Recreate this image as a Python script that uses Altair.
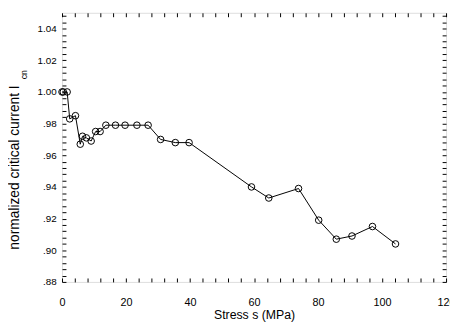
import altair as alt
import pandas as pd

stress = [0, 0.4, 1.6, 2.4, 4.2, 5.7, 6.4, 7.6, 9.1, 10.5, 11.9, 13.7, 16.7, 19.7,
          23.4, 26.9, 30.8, 35.4, 39.7, 59.2, 64.6, 73.9, 80.2, 85.7, 90.6, 97.0, 104.2]
icn = [1.000, 1.000, 1.000, 0.983, 0.985, 0.967, 0.972, 0.971, 0.969, 0.975, 0.975,
       0.979, 0.979, 0.979, 0.979, 0.979, 0.970, 0.968, 0.968, 0.940, 0.933, 0.939,
       0.919, 0.907, 0.909, 0.915, 0.904]

x_labels = [0, 20, 40, 60, 80, 100, 120]
y_labels = [0.88, 0.90, 0.92, 0.94, 0.96, 0.98, 1.00, 1.02, 1.04]
x_minor = list(range(0, 121, 4))
y_minor = [round(0.88 + 0.004 * k, 3) for k in range(0, 43)]

df = pd.DataFrame({"s": stress, "i": icn})
W, H = 391, 274
FONT = "Liberation Sans"

xs = alt.Scale(domain=[0, 120], nice=False)
ys = alt.Scale(domain=[0.88, 1.05], nice=False)

base = alt.Chart(df)

line = base.mark_line(color="black", strokeWidth=1).encode(
    x=alt.X("s:Q", scale=xs, axis=alt.Axis(
        values=x_labels, title="Stress s (MPa)", grid=False, domain=False, tickSize=0,
        labelFlush=False, labelOverlap=False,
        labelPadding=15, labelFontSize=11, labelFont=FONT, labelColor="black",
        titleFont=FONT, titleFontSize=12.5, titleFontWeight="normal", titleColor="black",
        titlePadding=1)),
    y=alt.Y("i:Q", scale=ys, axis=alt.Axis(
        values=y_labels, labelExpr="datum.value >= 1 ? format(datum.value, '.2f') : replace(format(datum.value, '.2f'), '0.', '.')",
        title="normalized critical current I", grid=False, domain=False, tickSize=0,
        labelFlush=False, labelOverlap=False,
        labelPadding=6, labelFontSize=10, labelFont=FONT, labelColor="black",
        titleFont=FONT, titleFontSize=14, titleFontWeight="normal", titleColor="black",
        titleAngle=270, titleX=-41, titleY=157, titleBaseline="bottom", titleAlign="center")),
)

points = base.mark_point(shape="circle", size=45, filled=False, color="black",
                         strokeWidth=1, opacity=1).encode(
    x=alt.X("s:Q", scale=xs, axis=alt.Axis(
        orient="top", offset=-H, values=x_minor, labels=False, title=None, grid=False,
        domain=False, tickSize=4, tickColor="black")),
    y=alt.Y("i:Q", scale=ys, axis=alt.Axis(
        orient="right", offset=-W, values=y_minor, labels=False, title=None, grid=False,
        domain=False, tickSize=4, tickColor="black")),
)

ticks2 = base.mark_point(opacity=0).encode(
    x=alt.X("s:Q", scale=xs, axis=alt.Axis(
        orient="bottom", offset=-H, values=x_minor, labels=False, title=None, grid=False,
        domain=False, tickSize=4, tickColor="black")),
    y=alt.Y("i:Q", scale=ys, axis=alt.Axis(
        orient="left", offset=-W, values=y_minor, labels=False, title=None, grid=False,
        domain=False, tickSize=4, tickColor="black")),
)

sub = alt.Chart(pd.DataFrame({"t": ["cn"]})).mark_text(
    font=FONT, fontSize=9, angle=270, align="center", baseline="middle", color="black"
).encode(x=alt.value(-39), y=alt.value(63), text="t:N")

chart = alt.layer(line, points, ticks2, sub).resolve_axis(
    x="independent", y="independent"
).properties(
    width=W, height=H,
    autosize=alt.AutoSizeParams(type="none"),
    padding={"left": 55, "top": 2, "right": 4, "bottom": 42},
).configure_view(stroke="black", strokeWidth=1).configure(background="white")

chart.save("out.html", embed_options={"renderer": "svg", "actions": False})
